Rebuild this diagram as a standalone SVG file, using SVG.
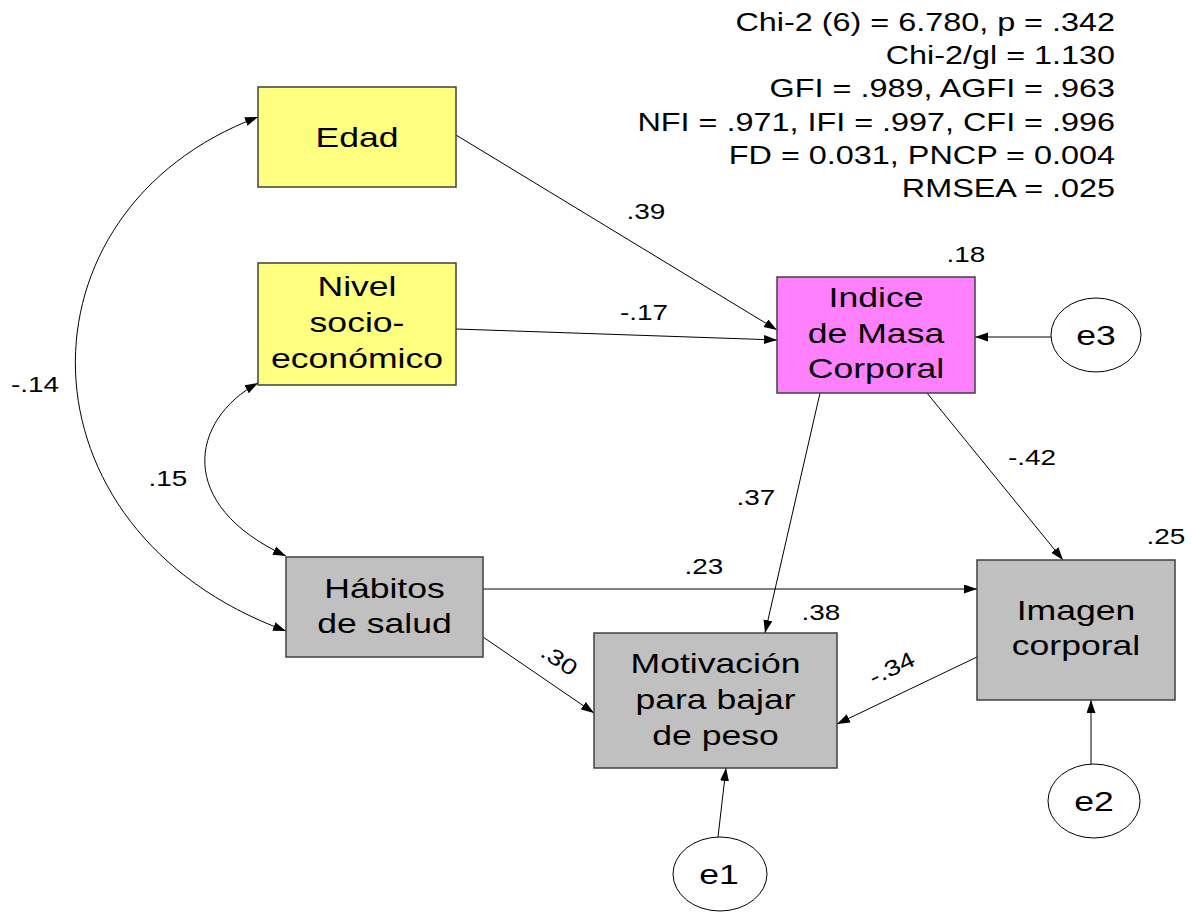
<svg xmlns="http://www.w3.org/2000/svg" width="1193" height="912" viewBox="0 0 1193 912">
<style>
.box{stroke:#404040;stroke-width:1.5}
.y{fill:#FFFF80}
.m{fill:#FF80FF}
.g{fill:#C0C0C0}
.el{fill:#fff;stroke:#000;stroke-width:1}
.ln{fill:none;stroke:#000;stroke-width:1;marker-end:url(#ah)}
.cv{fill:none;stroke:#000;stroke-width:1;marker-start:url(#ah);marker-end:url(#ah)}
text{font-family:"Liberation Sans",Arial,sans-serif;fill:#000}
.nt{font-size:28px;text-anchor:middle}
.lb{font-size:22px;text-anchor:middle}
.fit{font-size:25.5px;text-anchor:end}
</style>
<defs>
<marker id="ah" markerUnits="userSpaceOnUse" markerWidth="14" markerHeight="10" refX="13" refY="4.5" orient="auto-start-reverse">
<path d="M0,0 L13,4.5 L0,9 z" fill="#000"/>
</marker>
</defs>
<rect width="1193" height="912" fill="#fff"/>

<g id="fit-stats">
<text class="fit" transform="translate(1115,31) scale(1.27,1)">Chi-2 (6) = 6.780, p = .342</text>
<text class="fit" transform="translate(1115,64) scale(1.27,1)">Chi-2/gl = 1.130</text>
<text class="fit" transform="translate(1115,97) scale(1.27,1)">GFI = .989, AGFI = .963</text>
<text class="fit" transform="translate(1115,131) scale(1.27,1)">NFI = .971, IFI = .997, CFI = .996</text>
<text class="fit" transform="translate(1115,164) scale(1.27,1)">FD = 0.031, PNCP = 0.004</text>
<text class="fit" transform="translate(1115,197) scale(1.27,1)">RMSEA = .025</text>
</g>

<g id="connectors">
<path class="ln" d="M456,135 L777,330"/>
<path class="ln" d="M456,329 L777,340"/>
<path class="ln" d="M1051,337 L975,337"/>
<path class="ln" d="M820,393 L765,633"/>
<path class="ln" d="M927,393 L1063,560"/>
<path class="ln" d="M483,589 L977,589"/>
<path class="ln" d="M483,637 L594,713"/>
<path class="ln" d="M977,657 L837,724"/>
<path class="ln" d="M1091,764 L1091,700"/>
<path class="ln" d="M718,837 L726,768"/>
<path class="cv" d="M258,117 C10,210 10,530 286,631"/>
<path class="cv" d="M258,383 C190,420 175,505 286,556"/>
</g>

<g id="labels">
<text class="lb" transform="translate(646,219) scale(1.27,1)">.39</text>
<text class="lb" transform="translate(644,320) scale(1.27,1)">-.17</text>
<text class="lb" transform="translate(966,262) scale(1.27,1)">.18</text>
<text class="lb" transform="translate(1032,465) scale(1.27,1)">-.42</text>
<text class="lb" transform="translate(756,505) scale(1.27,1)">.37</text>
<text class="lb" transform="translate(1166,544) scale(1.27,1)">.25</text>
<text class="lb" transform="translate(704,574) scale(1.27,1)">.23</text>
<text class="lb" transform="translate(821,620) scale(1.27,1)">.38</text>
<text class="lb" transform="translate(555,666) rotate(34) scale(1.27,1)">.30</text>
<text class="lb" transform="translate(895,675) rotate(-26) scale(1.27,1)">-.34</text>
<text class="lb" transform="translate(35,392) scale(1.27,1)">-.14</text>
<text class="lb" transform="translate(168,486) scale(1.27,1)">.15</text>
</g>

<g id="edad">
<rect class="box y" x="258" y="87" width="198" height="100"/>
<text class="nt" transform="translate(357,147) scale(1.27,1)">Edad</text>
</g>

<g id="nivel">
<rect class="box y" x="258" y="263" width="198" height="122"/>
<text class="nt" transform="translate(357,0) scale(1.27,1)"><tspan x="0" y="296">Nivel</tspan><tspan x="0" y="332">socio-</tspan><tspan x="0" y="368">económico</tspan></text>
</g>

<g id="imc">
<rect class="box m" x="777" y="277" width="198" height="116"/>
<text class="nt" transform="translate(876,0) scale(1.27,1)"><tspan x="0" y="307">Indice</tspan><tspan x="0" y="343">de Masa</tspan><tspan x="0" y="378">Corporal</tspan></text>
</g>

<g id="habitos">
<rect class="box g" x="286" y="557" width="197" height="100"/>
<text class="nt" transform="translate(384.5,0) scale(1.27,1)"><tspan x="0" y="598">Hábitos</tspan><tspan x="0" y="633">de salud</tspan></text>
</g>

<g id="motivacion">
<rect class="box g" x="594" y="633" width="243" height="135"/>
<text class="nt" transform="translate(715.5,0) scale(1.27,1)"><tspan x="0" y="673">Motivación</tspan><tspan x="0" y="709">para bajar</tspan><tspan x="0" y="745">de peso</tspan></text>
</g>

<g id="imagen">
<rect class="box g" x="977" y="560" width="198" height="140"/>
<text class="nt" transform="translate(1076,0) scale(1.27,1)"><tspan x="0" y="620">Imagen</tspan><tspan x="0" y="655">corporal</tspan></text>
</g>

<g id="e3">
<ellipse class="el" cx="1096" cy="335" rx="45" ry="37"/>
<text class="nt" transform="translate(1096,345) scale(1.27,1)">e3</text>
</g>

<g id="e2">
<ellipse class="el" cx="1094" cy="801" rx="46" ry="37"/>
<text class="nt" transform="translate(1094,811) scale(1.27,1)">e2</text>
</g>

<g id="e1">
<ellipse class="el" cx="720" cy="874" rx="47" ry="37"/>
<text class="nt" transform="translate(719,884) scale(1.27,1)">e1</text>
</g>
</svg>
